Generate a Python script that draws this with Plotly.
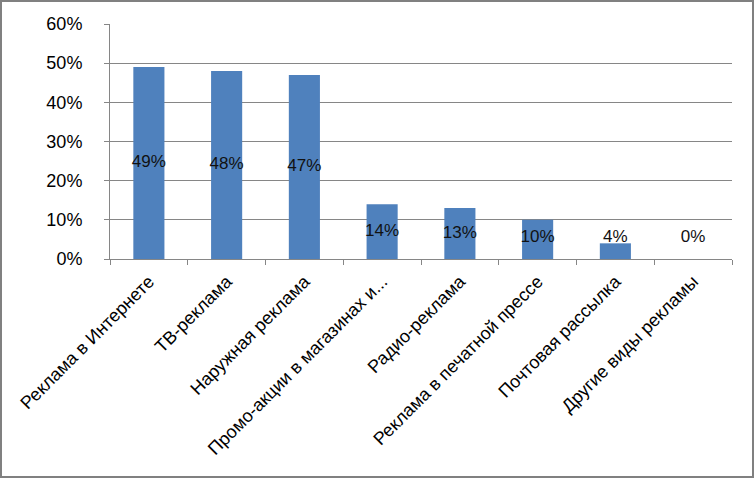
import plotly.graph_objects as go

categories = ["Реклама в Интернете", "ТВ-реклама", "Наружная реклама",
              "Промо-акции в магазинах и...", "Радио-реклама",
              "Реклама в печатной прессе", "Почтовая рассылка", "Другие виды рекламы"]
values = [0.49, 0.48, 0.47, 0.14, 0.13, 0.10, 0.04, 0.0]
labels = ["49%", "48%", "47%", "14%", "13%", "10%", "4%", "0%"]

W, H = 755, 479
L, R, T, B = 110, 23, 24, 220
pw, ph = W - L - R, H - T - B

fig = go.Figure()
fig.add_trace(go.Bar(x=categories, y=values, marker_color="#4F81BD",
                     marker_line_width=0, width=0.4, hoverinfo="skip"))
label_y = [max(v / 2, 0.054) for v in values]
fig.add_trace(go.Scatter(x=categories, y=label_y, mode="text", text=labels,
                         textfont=dict(family="Liberation Sans, Arial", size=17, color="#111"),
                         hoverinfo="skip"))

gray = "#868686"
fig.update_layout(
    width=W, height=H, showlegend=False,
    margin=dict(l=L, r=R, t=T, b=B, pad=0),
    paper_bgcolor="white", plot_bgcolor="white",
    bargap=0.6,
    xaxis=dict(type="category", tickangle=-45, showgrid=False,
               showline=True, linecolor=gray, linewidth=1,
               ticks="outside", tickson="boundaries", ticklen=5, tickcolor=gray,
               ticklabelstandoff=4,
               tickfont=dict(family="Liberation Sans, Arial", size=18, color="black")),
    yaxis=dict(range=[0, 0.6], dtick=0.1, tickformat=".0%",
               showgrid=True, gridcolor=gray, gridwidth=1,
               showline=True, linecolor=gray, linewidth=1,
               ticks="outside", ticklen=5, tickcolor=gray, zeroline=False,
               ticklabelstandoff=18,
               tickfont=dict(family="Liberation Sans, Arial", size=18, color="black")),
    shapes=[dict(type="rect", xref="paper", yref="paper",
                 x0=(1 - L) / pw, x1=(W - 2 - L) / pw,
                 y0=-(H - 2 - T - ph) / ph, y1=1 + (T - 1) / ph,
                 line=dict(color="#808080", width=2))],
)
fig.write_html("out.html")
